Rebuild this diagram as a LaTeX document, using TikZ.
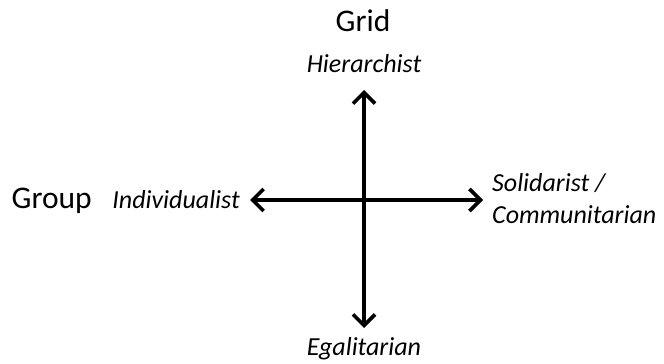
\documentclass[tikz,border=0pt]{standalone}
\usepackage{fontspec}
\setmainfont{Carlito}
\usetikzlibrary{arrows.meta}
\begin{document}
\begin{tikzpicture}[x=1pt,y=-1pt,
  axis/.style={line width=3.4pt,{Straight Barb[length=11pt,width=22pt,line width=3.6pt]}-{Straight Barb[length=11pt,width=22pt,line width=3.6pt]}},
  title/.style={font=\fontsize{31.5}{36}\selectfont,inner sep=0pt},
  lbl/.style={font=\fontsize{26}{31}\selectfont\itshape,inner sep=0pt}]
\useasboundingbox (0,0) rectangle (664,364);
\node[title] (grid) at (363,21) {Grid};
\node[lbl] (hier) at (364,64) {Hierarchist};
\node[lbl] (egal) at (364,349) {Egalitarian};
\node[lbl,anchor=east] (ind) at (240,200) {Individualist};
\node[title,anchor=east] (group) at (92,201) {Group};
\node[lbl,anchor=west,align=left,font=\fontsize{26}{32}\selectfont\itshape] (sol) at (492,199) {Solidarist /\\Communitarian};
\coordinate (top) at (364,90);
\coordinate (bot) at (364,328);
\coordinate (left) at (250,200);
\coordinate (right) at (483,200);
\draw[axis] (top) -- (bot);
\draw[axis] (left) -- (right);
\end{tikzpicture}
\end{document}
